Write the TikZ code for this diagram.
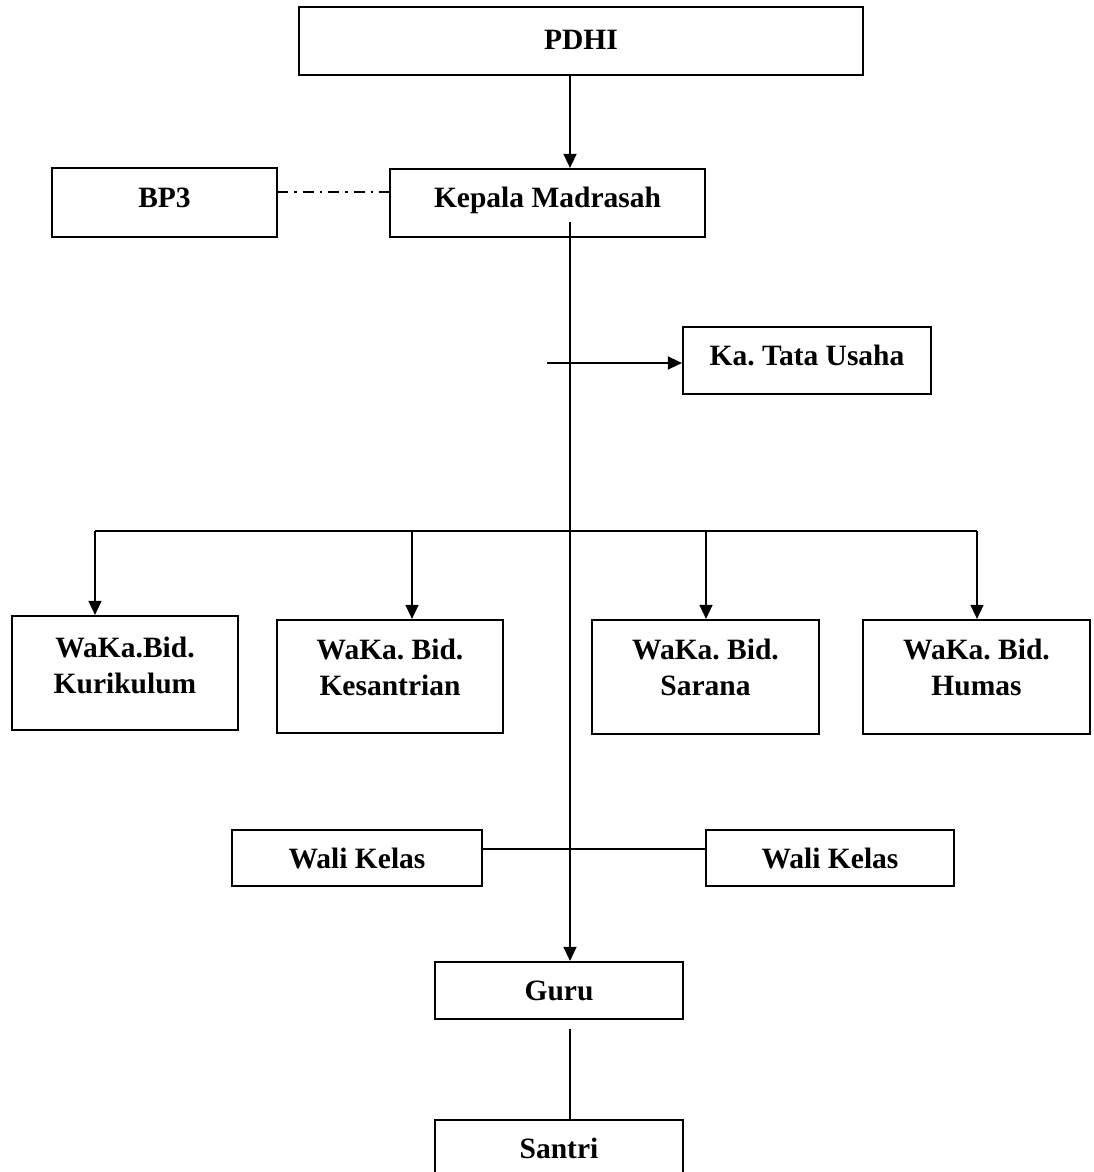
\documentclass[tikz,border=0pt]{standalone}
\usepackage{fontspec}
\setmainfont{Liberation Serif}
\frenchspacing
\usetikzlibrary{arrows.meta}
\tikzset{
  box/.style={draw=black, line width=2.2pt, fill=white, inner sep=0pt},
  txt/.style={font=\fontsize{29.5}{36}\selectfont\bfseries, align=center, inner sep=0pt},
  conn/.style={draw=black, line width=1.4pt},
  arr/.style={conn, -{Triangle[length=14pt,width=13pt]}},
  dashdot/.style={conn, dash pattern=on 11pt off 6pt on 2.5pt off 6pt}
}
\begin{document}
\begin{tikzpicture}[x=1pt,y=-1pt]
\useasboundingbox[fill=white] (0,0) rectangle (1093,1172);
% boxes
\node[box, minimum width=564pt, minimum height=68pt] (pdhi) at (581,41) {};
\node[box, minimum width=315pt, minimum height=68pt] (km) at (547.5,203) {};
\node[box, minimum width=225pt, minimum height=69pt] (bp3) at (164.5,202.5) {};
\node[box, minimum width=248pt, minimum height=67pt] (tu) at (807,360.5) {};
\node[box, minimum width=226pt, minimum height=114pt] (kur) at (125,673) {};
\node[box, minimum width=226pt, minimum height=113pt] (kes) at (390,676.5) {};
\node[box, minimum width=227pt, minimum height=114pt] (sar) at (705.5,677) {};
\node[box, minimum width=227pt, minimum height=114pt] (hum) at (976.5,677) {};
\node[box, minimum width=250pt, minimum height=56pt] (wl) at (357,858) {};
\node[box, minimum width=248pt, minimum height=56pt] (wr) at (830,858) {};
\node[box, minimum width=248pt, minimum height=57pt] (guru) at (559,990.5) {};
\node[box, minimum width=248pt, minimum height=80pt] (san) at (559,1160) {};
% texts
\node[txt, anchor=base] (pdhiT) at (581,49) {PDHI};
\node[txt, anchor=base] (kmT) at (547.5,207) {Kepala Madrasah};
\node[txt, anchor=base] (bp3T) at (164.5,207) {BP3};
\node[txt, anchor=base] (tuT) at (807,365) {Ka. Tata Usaha};
\node[txt] (kurT) at (125,665) {WaKa.Bid.\\Kurikulum};
\node[txt] (kesT) at (390,667) {WaKa. Bid.\\Kesantrian};
\node[txt] (sarT) at (705.5,667) {WaKa. Bid.\\Sarana};
\node[txt] (humT) at (976.5,667) {WaKa. Bid.\\Humas};
\node[txt, anchor=base] (wlT) at (357,868) {Wali Kelas};
\node[txt, anchor=base] (wrT) at (830,868) {Wali Kelas};
\node[txt, anchor=base] (guruT) at (559,1000) {Guru};
\node[txt, anchor=base] (sanT) at (559,1158) {Santri};
% helper coordinates
\coordinate (spine) at (570,222);
\coordinate (dd) at (277,192);
\coordinate (tus) at (547,363);
\coordinate (a1) at (95,531);
\coordinate (a2) at (412,531);
\coordinate (a3) at (706,531);
\coordinate (a4) at (977,531);
\coordinate (wline) at (570,849);
\coordinate (gs) at (570,1029);
% connectors
\draw[arr] (spine |- pdhi.south) -- (spine |- km.north);
\draw[dashdot] (dd) -- (dd -| km.west);
\draw[arr] (spine) -- (spine |- guru.north);
\draw[arr] (tus) -- (tus -| tu.west);
\draw[conn] (a1) -- (a4);
\draw[arr] (a1) -- (a1 |- kur.north);
\draw[arr] (a2) -- (a2 |- kes.north);
\draw[arr] (a3) -- (a3 |- sar.north);
\draw[arr] (a4) -- (a4 |- hum.north);
\draw[conn] (wline -| wl.east) -- (wline -| wr.west);
\draw[conn] (gs) -- (gs |- san.north);
\end{tikzpicture}
\end{document}
